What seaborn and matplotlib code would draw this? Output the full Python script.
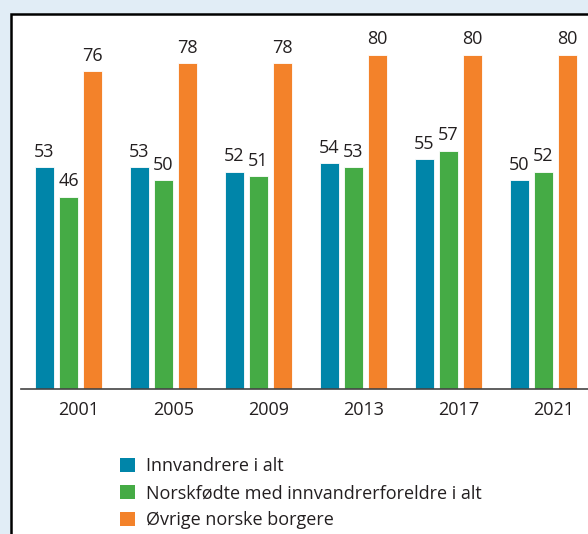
import matplotlib
matplotlib.use("Agg")
import matplotlib.pyplot as plt
import seaborn as sns
import pandas as pd
import numpy as np
from matplotlib.patches import Rectangle, Patch

years = ["2001", "2005", "2009", "2013", "2017", "2021"]
series = ["Innvandrere i alt", "Norskfødte med innvandrerforeldre i alt", "Øvrige norske borgere"]
innvandrere = [53, 53, 52, 54, 55, 50]
norskfodte = [46, 50, 51, 53, 57, 52]
ovrige = [76, 78, 78, 80, 80, 80]
colors = ["#0085a9", "#45ab45", "#f3822a"]

df = pd.DataFrame({
    "year": years * 3,
    "group": [series[0]] * 6 + [series[1]] * 6 + [series[2]] * 6,
    "value": innvandrere + norskfodte + ovrige,
})

sns.set_theme(style="white")
plt.rcParams["font.family"] = ["Open Sans", "DejaVu Sans"]
TXT = "#231f20"

W, H = 588, 534
fig = plt.figure(figsize=(W / 100, H / 100), dpi=100)
fig.patch.set_facecolor("#e1edf6")

# white panel with black border (cropped at right/bottom)
fig.add_artist(Rectangle((11 / W, -0.1), 1.2, (H - 14) / H + 0.1, transform=fig.transFigure,
                         facecolor="white", edgecolor="black", linewidth=1.8, zorder=0))

ax_left, ax_right = 21, 588
ax_bottom, ax_top = 389, 14
ax = fig.add_axes([ax_left / W, (H - ax_bottom) / H, (ax_right - ax_left) / W, (ax_bottom - ax_top) / H])
ax.set_facecolor("none")

sns.barplot(data=df, x="year", y="value", hue="group", palette=colors, width=0.758, gap=0.23,
            ax=ax, legend=False, edgecolor="white", linewidth=0.6, saturation=1)

for cont in ax.containers:
    ax.bar_label(cont, padding=4.5, fontsize=13, color=TXT)

ax.set_xlim(-0.5, -0.5 + (ax_right - ax_left) / 95)
ax.set_ylim(0, (ax_bottom - ax_top) / 4.18)
ax.set_xticks(np.arange(len(years)) + 10 / 95)
ax.set_xticklabels(years, fontsize=13, color=TXT)
ax.tick_params(axis="x", length=0, pad=8.5)
ax.set_yticks([])
ax.set_xlabel("")
ax.set_ylabel("")
for s in ["top", "right", "left"]:
    ax.spines[s].set_visible(False)
ax.spines["bottom"].set_color("#444444")
ax.spines["bottom"].set_linewidth(1.2)

handles = [Patch(facecolor=c, edgecolor="none") for c in colors]
fig.legend(handles, series, loc="upper left", bbox_to_anchor=(113 / W, 1 - 450 / H),
           frameon=False, fontsize=13, handlelength=0.82, handleheight=0.82,
           handletextpad=0.6, labelspacing=0.5, borderaxespad=0, labelcolor=TXT)

fig.savefig("out.png", dpi=100)
